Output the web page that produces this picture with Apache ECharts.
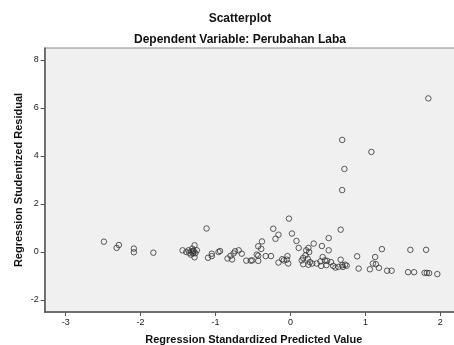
<!DOCTYPE html>
<html>
<head>
<meta charset="utf-8">
<script src="https://cdn.jsdelivr.net/npm/echarts@6/dist/echarts.min.js"></script>
<style>
  html, body { margin: 0; padding: 0; background: #fff; overflow: hidden; }
  /* wider than the window: the plot box is cut off on the right like the source */
  #chart { width: 470px; height: 345px; }
</style>
</head>
<body>
<div id="chart"></div>
<script>
// standardized predicted value vs studentized residual
const predicted = [
  -2.49, -2.29, -2.32, -2.09, -2.09, -1.83,
  -1.44, -1.39, -1.36, -1.35, -1.33, -1.31, -1.30, -1.29, -1.28, -1.28, -1.27, -1.25, -1.32, -1.30,
  -1.12, -1.10, -1.05, -1.05, -0.96, -0.94,
  -0.84, -0.80, -0.78, -0.76, -0.74, -0.69, -0.65, -0.59, -0.53,
  -0.51, -0.45, -0.43, -0.43, -0.43, -0.39, -0.38, -0.33, -0.26,
  -0.23, -0.20, -0.16, -0.02, 0.02, 0.08, 0.11,
  -0.16, -0.11, -0.09, -0.04, -0.05, -0.03,
  0.17, 0.15, 0.20, 0.23, 0.26, 0.17, 0.24, 0.29, 0.35, 0.40, 0.43, 0.46, 0.48, 0.41,
  0.24, 0.21, 0.25, 0.31, 0.42, 0.51, 0.51,
  0.67, 0.49, 0.54, 0.57, 0.60, 0.64, 0.67, 0.69, 0.73, 0.75, 0.70,
  0.69, 1.08, 0.72, 0.69, 1.84,
  0.89, 0.91, 1.06, 1.10, 1.14, 1.18, 1.13, 1.22,
  1.29, 1.35, 1.57, 1.65, 1.60, 1.81,
  1.79, 1.82, 1.85, 1.96
];
const residual = [
  0.43, 0.29, 0.17, 0.14, -0.01, -0.03,
  0.07, 0.00, 0.07, -0.03, -0.11, 0.14, 0.05, 0.03, 0.28, -0.22, -0.05, 0.07, 0.02, -0.06,
  0.98, -0.24, -0.07, -0.17, 0.00, 0.04,
  -0.27, -0.16, -0.31, -0.06, 0.03, 0.07, -0.07, -0.36, -0.36,
  -0.35, -0.11, -0.15, -0.37, 0.24, 0.13, 0.44, -0.17, -0.17,
  0.97, 0.55, 0.72, 1.39, 0.77, 0.46, 0.17,
  -0.44, -0.30, -0.35, -0.17, -0.32, -0.48,
  -0.25, -0.35, -0.14, -0.28, -0.42, -0.51, -0.53, -0.48, -0.48, -0.39, -0.21, -0.35, -0.55, -0.58,
  0.17, 0.07, 0.00, 0.35, 0.25, 0.58, 0.07,
  0.93, -0.37, -0.42, -0.58, -0.65, -0.62, -0.32, -0.55, -0.53, -0.57, -0.62,
  4.67, 4.17, 3.46, 2.58, 6.40,
  -0.18, -0.69, -0.72, -0.48, -0.51, -0.66, -0.21, 0.12,
  -0.78, -0.78, -0.84, -0.84, 0.09, 0.09,
  -0.87, -0.87, -0.88, -0.92
];
const xTicks = [-3, -2, -1, 0, 1, 2];
const yTicks = [-2, 0, 2, 4, 6, 8];

const points = predicted.map((x, i) => [x, residual[i]]);

const FONT = '"Liberation Sans", Arial, sans-serif';
const chart = echarts.init(document.getElementById('chart'), null, { renderer: 'canvas' });

chart.setOption({
  animation: false,
  backgroundColor: '#fff',
  title: [
    {
      text: 'Scatterplot', left: 235, top: 8, textAlign: 'center',
      textStyle: { fontFamily: FONT, fontSize: 12, fontWeight: 'bold', color: '#111' }
    },
    {
      text: 'Dependent Variable: Perubahan Laba', left: 235, top: 29, textAlign: 'center',
      textStyle: { fontFamily: FONT, fontSize: 12, fontWeight: 'bold', color: '#111' }
    }
  ],
  grid: {
    left: 44.7, top: 48, right: 7.2, bottom: 33,
    outerBoundsMode: 'none',
    show: true, backgroundColor: '#f0f0f0', borderColor: '#8a8a8a', borderWidth: 1
  },
  xAxis: {
    type: 'value', min: -3.28, max: 2.3,
    name: 'Regression Standardized Predicted Value',
    nameLocation: 'middle', nameGap: 22, nameMoveOverlap: false,
    nameTextStyle: { fontFamily: FONT, fontSize: 11, fontWeight: 'bold', color: '#111' },
    axisLine: { show: true, onZero: false, lineStyle: { color: '#555', width: 1.5 } },
    axisTick: { show: true, length: 4, customValues: xTicks, lineStyle: { color: '#555' } },
    axisLabel: { customValues: xTicks, margin: 6, fontFamily: FONT, fontSize: 9, color: '#222' },
    splitLine: { show: false }
  },
  yAxis: {
    type: 'value', min: -2.5, max: 8.5,
    name: 'Regression Studentized Residual',
    nameLocation: 'middle', nameGap: 20, nameMoveOverlap: false,
    nameTextStyle: { fontFamily: FONT, fontSize: 11, fontWeight: 'bold', color: '#111' },
    axisLine: { show: true, onZero: false, lineStyle: { color: '#555', width: 1.5 } },
    axisTick: { show: true, length: 4, customValues: yTicks, lineStyle: { color: '#555' } },
    axisLabel: { customValues: yTicks, margin: 6, fontFamily: FONT, fontSize: 9, color: '#222' },
    splitLine: { show: false }
  },
  series: [
    {
      type: 'scatter',
      data: points,
      symbol: 'circle',
      symbolSize: 5.5,
      itemStyle: { color: 'rgba(0,0,0,0)', borderColor: '#333', borderWidth: 1 }
    }
  ]
});
</script>
</body>
</html>
